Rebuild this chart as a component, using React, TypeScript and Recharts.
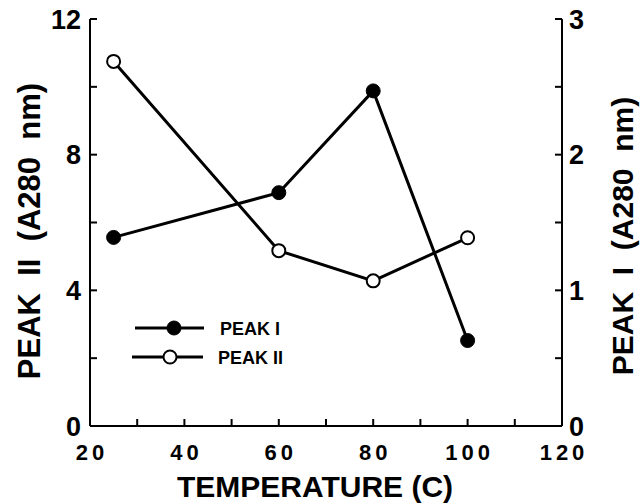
import React from 'react';
import { LineChart, Line, XAxis, YAxis, Legend } from 'recharts';

const FONT = '"Liberation Sans", Arial, sans-serif';

// temperature (C)
const temperatures = [25, 60, 80, 100];
// right axis, filled circles
const peakI = [1.39, 1.72, 2.47, 0.63];
// left axis, open circles
const peakII = [10.75, 5.17, 4.28, 5.55];

const xTicks = [20, 30, 40, 50, 60, 70, 80, 90, 100, 110, 120];
const xLabels = [20, 40, 60, 80, 100, 120];
const leftTicks = [0, 2, 4, 6, 8, 10, 12];
const leftLabels = [0, 4, 8, 12];
const rightTicks = [0, 0.5, 1, 1.5, 2, 2.5, 3];
const rightLabels = [0, 1, 2, 3];

const data = temperatures.map((t, i) => ({ temp: t, peakI: peakI[i], peakII: peakII[i] }));

const tickLineStyle = { stroke: '#000', strokeWidth: 2 };

const XTick = (props: any) => {
  const { x, y, payload } = props;
  if (!xLabels.includes(payload.value)) return <g />;
  return (
    <text x={x + 2} y={y} dy="0.71em" textAnchor="middle" fontFamily={FONT} fontWeight={700}
      fontSize={22} letterSpacing={4} fill="#000">
      {payload.value}
    </text>
  );
};

const makeYTick = (labels: number[], anchor: 'start' | 'end') => (props: any) => {
  const { x, y, payload } = props;
  if (!labels.includes(payload.value)) return <g />;
  return (
    <text x={x} y={y} dy="0.36em" textAnchor={anchor} fontFamily={FONT} fontWeight={700}
      fontSize={27} fill="#000">
      {payload.value}
    </text>
  );
};

const LeftTick = makeYTick(leftLabels, 'end');
const RightTick = makeYTick(rightLabels, 'start');

const titleStyle: React.CSSProperties = { whiteSpace: 'pre' };

const LegendBox = () => (
  <svg width={200} height={62}>
    <line x1={5} y1={16} x2={74} y2={16} stroke="#000" strokeWidth={3} />
    <circle cx={44} cy={16} r={7} fill="#000" stroke="#000" />
    <text x={90} y={22.5} fontFamily={FONT} fontWeight={700} fontSize={18} fill="#000">PEAK I</text>
    <line x1={2} y1={45} x2={73} y2={45} stroke="#000" strokeWidth={3} />
    <circle cx={40} cy={45} r={6.5} fill="#fff" stroke="#000" strokeWidth={2} />
    <text x={88} y={51.5} fontFamily={FONT} fontWeight={700} fontSize={18} fill="#000">PEAK II</text>
  </svg>
);

export default function App() {
  return (
    <div style={{ position: 'absolute', left: 0, top: 0, background: '#fff' }}>
      <LineChart width={642} height={503} data={data} margin={{ top: 19, right: 0, bottom: 0, left: 0 }}>
        <XAxis
          xAxisId="bottom"
          dataKey="temp"
          type="number"
          domain={[20, 120]}
          ticks={xTicks}
          interval={0}
          height={77}
          stroke="#000"
          strokeWidth={2}
          tickLine={tickLineStyle}
          tickSize={-7}
          tickMargin={25}
          tick={XTick}
          label={{
            content: () => (
              <text x={315} y={497} textAnchor="middle" fontFamily={FONT} fontWeight={700} fontSize={30} fill="#000">
                TEMPERATURE (C)
              </text>
            ),
          }}
        />
        <XAxis
          xAxisId="top"
          orientation="top"
          type="number"
          domain={[20, 120]}
          ticks={xTicks}
          interval={0}
          height={0}
          stroke="#000"
          strokeWidth={2}
          tickLine={tickLineStyle}
          tickSize={-7}
          tick={() => <g />}
        />
        <YAxis
          yAxisId="left"
          orientation="left"
          type="number"
          domain={[0, 12]}
          ticks={leftTicks}
          interval={0}
          width={90}
          stroke="#000"
          strokeWidth={2}
          tickLine={tickLineStyle}
          tickSize={-7}
          tickMargin={16}
          tick={LeftTick}
          label={{
            content: () => (
              <text x={40} y={231} transform="rotate(-90 40 231)" textAnchor="middle" fontFamily={FONT}
                fontWeight={700} fontSize={31} fill="#000" style={titleStyle}>
                {'PEAK  II  (A280  nm)'}
              </text>
            ),
          }}
        />
        <YAxis
          yAxisId="right"
          orientation="right"
          type="number"
          domain={[0, 3]}
          ticks={rightTicks}
          interval={0}
          width={80}
          stroke="#000"
          strokeWidth={2}
          tickLine={tickLineStyle}
          tickSize={-7}
          tickMargin={14}
          tick={RightTick}
          label={{
            content: () => (
              <text x={633} y={236} transform="rotate(-90 633 236)" textAnchor="middle" fontFamily={FONT}
                fontWeight={700} fontSize={30} fill="#000" style={titleStyle}>
                {'PEAK  I  (A280  nm)'}
              </text>
            ),
          }}
        />
        <Legend
          layout="vertical"
          align="center"
          verticalAlign="middle"
          content={LegendBox}
          wrapperStyle={{ left: 130, top: 312, width: 200, height: 62 }}
        />
        <Line
          xAxisId="bottom"
          yAxisId="left"
          dataKey="peakII"
          type="linear"
          stroke="#000"
          strokeWidth={3}
          dot={{ r: 6.5, fill: '#fff', stroke: '#000', strokeWidth: 2 }}
          activeDot={false}
          isAnimationActive={false}
        />
        <Line
          xAxisId="bottom"
          yAxisId="right"
          dataKey="peakI"
          type="linear"
          stroke="#000"
          strokeWidth={3}
          dot={{ r: 7, fill: '#000', stroke: '#000', strokeWidth: 1 }}
          activeDot={false}
          isAnimationActive={false}
        />
      </LineChart>
    </div>
  );
}
